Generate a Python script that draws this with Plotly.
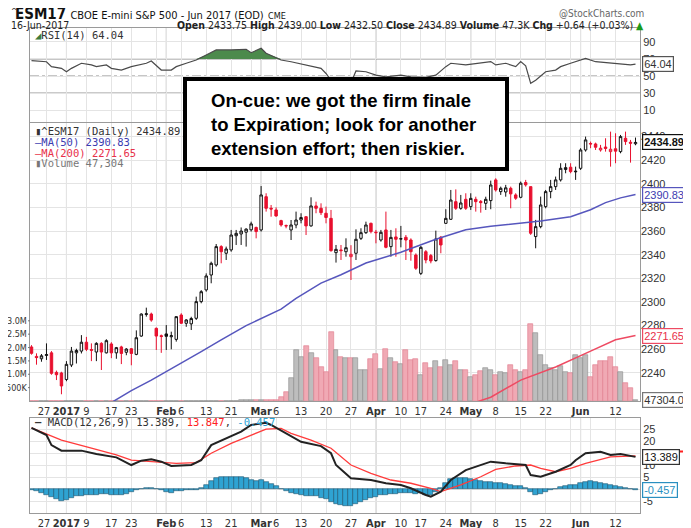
import pandas as pd
import plotly.graph_objects as go

# trading days of the chart (Dec 21 2016 .. Jun 16 2017, exchange holidays removed)
holidays = ["2016-12-26", "2017-01-02", "2017-01-16", "2017-02-20", "2017-04-14", "2017-05-29"]
dates = [d.strftime("%Y-%m-%d") for d in pd.bdate_range("2016-12-21", "2017-06-16")
         if d.strftime("%Y-%m-%d") not in holidays]

opens = [
    2262.0, 2254.0, 2252.0, 2254.8, 2257.0, 2240.5, 2240.0, 2234.5, 2246.7, 2257.0,
    2258.5, 2266.0, 2259.8, 2257.7, 2265.0, 2257.0, 2264.5, 2257.0, 2262.0, 2257.5,
    2260.5, 2255.7, 2271.2, 2289.5, 2289.8, 2277.7, 2271.5, 2273.0, 2270.6, 2268.4,
    2289.0, 2282.0, 2281.5, 2286.2, 2300.3, 2310.2, 2322.8, 2331.3, 2346.8, 2341.2,
    2344.0, 2356.0, 2357.5, 2359.0, 2361.0, 2363.0, 2360.9, 2389.0, 2379.2, 2377.8,
    2368.8, 2364.6, 2360.9, 2365.1, 2369.3, 2372.1, 2364.3, 2381.2, 2379.2, 2375.0,
    2370.7, 2341.7, 2344.0, 2342.5, 2338.3, 2341.2, 2353.8, 2358.6, 2366.5, 2359.0,
    2352.4, 2360.9, 2346.8, 2355.0, 2353.5, 2354.7, 2352.4, 2339.7, 2324.2, 2342.5,
    2339.2, 2335.0, 2354.7, 2366.5, 2369.9, 2384.8, 2379.2, 2386.8, 2380.6, 2386.8,
    2385.0, 2383.4, 2385.7, 2403.2, 2393.3, 2393.0, 2396.1, 2390.5, 2388.5, 2401.0,
    2397.5, 2355.3, 2363.7, 2380.6, 2393.3, 2397.5, 2403.2, 2412.0, 2413.9, 2410.0,
    2413.0, 2428.5, 2434.0, 2433.6, 2428.5, 2431.0, 2427.1, 2429.5, 2427.1, 2438.4,
    2435.0, 2433.75]
highs = [
    2263.5, 2256.6, 2256.0, 2265.0, 2258.5, 2242.0, 2241.0, 2250.0, 2262.0, 2260.5,
    2272.0, 2270.5, 2265.0, 2266.0, 2266.0, 2268.5, 2266.0, 2262.0, 2263.0, 2261.0,
    2261.0, 2276.0, 2290.4, 2295.2, 2291.0, 2278.5, 2272.5, 2280.5, 2274.9, 2287.0,
    2290.5, 2285.5, 2287.5, 2304.5, 2310.0, 2324.2, 2334.1, 2349.0, 2348.0, 2346.8,
    2360.9, 2360.9, 2363.0, 2362.3, 2367.9, 2363.7, 2398.0, 2391.9, 2382.0, 2380.0,
    2369.5, 2365.5, 2369.3, 2376.4, 2375.0, 2372.5, 2388.5, 2384.8, 2383.4, 2380.6,
    2377.8, 2348.2, 2348.2, 2353.8, 2348.0, 2361.4, 2362.3, 2367.9, 2367.1, 2360.9,
    2360.9, 2376.4, 2360.9, 2362.3, 2364.3, 2356.6, 2353.8, 2341.1, 2347.3, 2343.9,
    2340.6, 2360.3, 2355.8, 2378.4, 2394.7, 2395.2, 2390.5, 2391.9, 2391.9, 2389.0,
    2386.2, 2389.0, 2402.6, 2404.6, 2397.5, 2399.0, 2397.5, 2391.9, 2401.8, 2403.2,
    2397.5, 2369.4, 2389.1, 2394.7, 2403.2, 2406.0, 2417.3, 2417.3, 2417.3, 2414.4,
    2430.0, 2439.8, 2435.6, 2434.7, 2432.8, 2438.4, 2444.0, 2442.6, 2441.2, 2444.0,
    2437.0, 2439.0]
lows = [
    2255.5, 2247.0, 2249.5, 2251.0, 2238.5, 2234.0, 2222.0, 2233.0, 2245.0, 2248.0,
    2256.5, 2258.5, 2250.0, 2250.0, 2242.5, 2256.5, 2252.5, 2252.0, 2247.5, 2255.0,
    2246.5, 2255.0, 2270.6, 2287.6, 2283.3, 2259.4, 2257.0, 2259.4, 2260.0, 2266.5,
    2281.5, 2279.0, 2276.3, 2284.8, 2298.9, 2308.7, 2315.8, 2329.9, 2332.7, 2335.5,
    2342.5, 2348.2, 2348.2, 2346.8, 2359.5, 2353.8, 2359.5, 2376.4, 2372.1, 2372.1,
    2363.7, 2362.3, 2352.4, 2362.3, 2366.5, 2356.6, 2363.7, 2375.0, 2373.5, 2366.5,
    2342.5, 2333.3, 2335.5, 2338.3, 2318.6, 2335.5, 2352.4, 2357.5, 2358.0, 2349.6,
    2351.0, 2345.4, 2338.3, 2338.3, 2346.2, 2335.5, 2334.9, 2327.1, 2322.8, 2332.7,
    2332.7, 2334.1, 2341.2, 2366.0, 2369.3, 2377.8, 2378.0, 2377.8, 2377.8, 2376.4,
    2375.5, 2377.8, 2378.4, 2393.3, 2390.5, 2389.0, 2379.2, 2386.3, 2387.7, 2397.5,
    2356.7, 2345.4, 2362.3, 2379.2, 2387.7, 2394.7, 2401.8, 2408.8, 2408.8, 2403.2,
    2411.6, 2427.1, 2430.0, 2428.5, 2427.1, 2427.1, 2414.4, 2417.3, 2425.7, 2432.8,
    2417.8, 2432.5]
closes = [
    2256.6, 2253.0, 2254.5, 2255.5, 2239.7, 2238.5, 2229.0, 2247.3, 2258.5, 2259.0,
    2266.0, 2260.0, 2259.2, 2265.0, 2257.7, 2267.3, 2257.0, 2261.4, 2256.5, 2260.2,
    2256.5, 2269.8, 2289.8, 2290.0, 2284.7, 2271.2, 2270.8, 2271.0, 2271.5, 2287.6,
    2282.0, 2284.8, 2286.0, 2300.3, 2308.7, 2322.0, 2332.7, 2346.8, 2342.5, 2344.8,
    2356.6, 2358.0, 2360.0, 2361.6, 2366.0, 2359.5, 2390.5, 2379.2, 2378.6, 2372.7,
    2365.1, 2364.3, 2365.1, 2369.3, 2371.4, 2364.3, 2381.2, 2379.2, 2375.5, 2371.4,
    2343.4, 2344.5, 2343.4, 2345.9, 2340.3, 2353.0, 2358.6, 2365.1, 2359.5, 2358.6,
    2358.9, 2346.2, 2354.6, 2353.0, 2353.3, 2352.4, 2342.5, 2328.5, 2346.2, 2335.5,
    2334.7, 2353.3, 2348.2, 2370.7, 2386.2, 2379.2, 2383.7, 2379.2, 2387.6, 2384.8,
    2384.0, 2386.8, 2398.9, 2394.7, 2396.1, 2396.5, 2391.4, 2387.7, 2400.4, 2399.0,
    2358.1, 2363.7, 2382.0, 2393.3, 2397.5, 2403.2, 2413.0, 2413.6, 2410.2, 2410.5,
    2428.5, 2437.0, 2433.6, 2430.8, 2430.0, 2429.8, 2429.1, 2427.5, 2439.8, 2435.6,
    2434.25, 2434.89]

# volume in millions of contracts
volumes = [
    0.006, 0.005, 0.004, 0.006, 0.008, 0.006, 0.005, 0.007, 0.008, 0.007,
    0.006, 0.008, 0.007, 0.009, 0.008, 0.007, 0.009, 0.008, 0.010, 0.008,
    0.009, 0.011, 0.012, 0.010, 0.009, 0.012, 0.011, 0.010, 0.012, 0.011,
    0.010, 0.012, 0.013, 0.014, 0.012, 0.015, 0.016, 0.014, 0.015, 0.017,
    0.016, 0.018, 0.020, 0.019, 0.022, 0.025, 0.040, 0.030, 0.040, 0.050,
    0.16, 0.34, 0.85, 1.89, 1.64, 2.04, 1.79, 1.62, 1.27, 1.09,
    2.59, 1.92, 1.64, 1.62, 1.62, 1.62, 1.17, 1.17, 1.58, 1.74,
    1.21, 1.95, 1.62, 1.46, 1.37, 1.89, 1.54, 1.58, 0.99, 1.43,
    1.25, 1.48, 1.27, 1.54, 1.33, 1.49, 1.15, 1.17, 0.91, 0.96,
    1.12, 1.25, 1.15, 0.97, 1.10, 1.04, 1.35, 1.16, 1.10, 1.16,
    2.88, 2.54, 1.72, 1.35, 1.22, 1.16, 1.31, 1.07, 1.06, 1.72,
    1.60, 1.72, 0.91, 1.35, 1.48, 1.51, 1.64, 1.29, 1.07, 0.68,
    0.47, 0.047]
vol_ticks = [0.5, 1.0, 1.5, 2.0, 2.5, 3.0]
vol_tick_text = ["500K", "1.0M", "1.5M", "2.0M", "2.5M", "3.0M"]

ma50_idx = [14, 20, 24, 30, 34, 38, 43, 50, 53, 58, 62, 67, 74, 81, 87, 92, 97, 102, 108, 112, 115, 118, 121]
ma50_val = [2210, 2225, 2234, 2248, 2258, 2268, 2280, 2294, 2303, 2316, 2323, 2333, 2342, 2353,
            2361, 2364, 2366, 2368.5, 2372, 2378, 2384, 2388, 2390.83]
ma200_idx = [86, 92, 98, 105, 112, 117, 121]
ma200_val = [2211, 2219.5, 2234, 2245, 2258.5, 2268, 2271.65]

rsi_idx = [0, 3, 4, 6, 7, 8, 10, 12, 13, 15, 16, 18, 20, 23, 24, 26, 28, 29, 31, 33,
           35, 37, 40, 43, 44, 46, 47, 50, 52, 55, 58, 59, 60, 62, 64, 65, 67, 69, 71, 74,
           76, 79, 81, 83, 84, 87, 90, 92, 93, 95, 97, 98, 99, 100, 101, 103, 105, 106, 108, 110,
           111, 113, 116, 120, 121]
rsi_val = [68, 66.8, 61, 59, 55, 59, 65, 63, 61, 63, 59, 57, 61, 65, 67.6, 57, 57, 61, 65, 68.8,
           74.7, 80.6, 80.6, 81.4, 77.4, 82.6, 76.7, 68.8, 66.8, 63, 59, 53, 45, 44, 42, 56, 55, 51, 49, 51,
           49, 48.5, 51, 61, 65, 63, 65, 67, 63, 65, 61, 67, 62, 41.4, 45, 55, 57, 61, 65, 68.8,
           70.8, 66.8, 65, 63, 64.04]

macd_idx = [0, 3, 4, 6, 10, 13, 17, 19, 20, 22, 24, 26, 28, 32, 34, 36, 39, 42, 44, 47,
            48, 51, 54, 58, 60, 61, 64, 68, 71, 74, 76, 79, 80, 82, 84, 87, 90, 92, 95, 99,
            100, 102, 105, 108, 109, 111, 114, 116, 118, 121]
macd_val = [25.5, 22.5, 18.3, 16.0, 16.0, 14.6, 13.2, 11.0, 10.0, 11.8, 12.4, 11.4, 9.6, 10.0, 12.0,
            18.3, 21.1, 23.9, 26.7, 27.6, 26.7, 23.2, 19.7, 17.9, 14.9, 10.0, 4.5, 3.75, 2.4, 1.7,
            0.3, -2.5, -3.2, -1.1, 3.75, 7.9, 10.0, 11.4, 10.7, 10.0, 5.8, 5.1, 7.2, 10.0, 12.0,
            14.9, 15.5, 14.2, 14.6, 13.389]
signal_idx = [0, 6, 12, 17, 20, 24, 29, 33, 36, 40, 44, 47, 50, 52, 56, 60, 64, 68, 72, 76,
              80, 82, 86, 90, 93, 97, 100, 102, 105, 108, 111, 116, 121]
signal_val = [25.5, 20.4, 17.0, 14.2, 12.0, 11.4, 10.7, 11.0, 14.9, 19.0, 22.5, 25.0, 25.3, 23.2,
              20.4, 17.0, 10.0, 6.5, 3.75, 2.4, 0.3, -1.1, 1.7, 5.1, 8.2, 9.6, 10.0, 8.6, 7.2, 8.6,
              10.7, 13.4, 13.847]
histogram = [
    -0.3, -0.8, -1.5, -2.3, -3.2, -4.2, -5.0, -4.5, -3.6, -3.0,
    -2.8, -2.6, -2.4, -2.3, -2.2, -2.2, -2.3, -2.4, -2.3, -2.1,
    -1.2, -0.3, 0.2, 0.5, 0.3, 0.0, -0.6, -1.3, -1.5, -1.0,
    -0.8, -0.6, -0.5, -0.3, 0.5, 1.8, 3.5, 4.6, 5.1, 5.2,
    5.1, 5.0, 4.8, 4.4, 3.8, 3.3, 3.6, 3.0, 2.2, 1.2,
    0.2, -0.8, -1.6, -2.2, -2.6, -3.0, -2.8, -3.1, -3.6, -4.3,
    -5.5, -6.4, -6.8, -7.0, -6.9, -6.2, -5.4, -4.4, -3.8, -3.2,
    -2.6, -2.5, -2.2, -1.9, -1.6, -1.5, -1.6, -2.2, -1.8, -2.4,
    -2.6, -1.2, 0.4, 2.5, 4.0, 4.5, 4.6, 4.4, 4.0, 3.6,
    3.2, 3.0, 2.9, 2.6, 2.3, 2.0, 1.6, 1.4, 1.1, 0.6,
    -1.4, -2.4, -2.0, -1.3, -0.6, 0.1, 0.8, 1.3, 1.6, 1.8,
    2.3, 2.9, 3.2, 3.0, 2.6, 2.0, 1.5, 1.1, 0.8, 0.4,
    -0.1, -0.457]

tick_dates = ["2016-12-27", "2017-01-03", "2017-01-09", "2017-01-17", "2017-01-23", "2017-01-30",
              "2017-02-01", "2017-02-06", "2017-02-13", "2017-02-21", "2017-02-27", "2017-03-01",
              "2017-03-06", "2017-03-13", "2017-03-20", "2017-03-27", "2017-04-03", "2017-04-10",
              "2017-04-17", "2017-04-24", "2017-05-01", "2017-05-08", "2017-05-15", "2017-05-22",
              "2017-05-30", "2017-06-01", "2017-06-05", "2017-06-12"]
tick_text = ["27\u2002", "<b>2017</b>", "9", "17", "23", " ", "<b>Feb</b>", "6", "13", "21", " ", "<b>Mar</b>",
             "6", "13", "20", "27", "<b>Apr</b>", "10", "17", "24", "<b>May</b>", "8", "15", "22",
             " ", "<b>Jun</b>", " ", "12"]
month_starts = ["2017-01-03", "2017-02-01", "2017-03-01", "2017-04-03", "2017-05-01", "2017-06-01"]

RED = "#e8102e"
BLUE_MA = "#5656bd"
RED_MA = "#ee4a62"
NARROW = "Liberation Sans Narrow, DejaVu Sans Condensed, Liberation Sans, Arial"
MONO = "DejaVu Sans Mono"
# the page puts the figure 8px in from the top-left corner, so the figure is 8px smaller
OFF = 8
W, H, L, R = 691 - OFF, 528 - OFF, 30 - OFF, 51


def px(x):
    return (x - OFF - L) / (W - L - R)


def py(y):
    return 1 - (y - OFF) / H


# StockCharts colouring: red when the close is below the previous close, black otherwise
up = [i > 0 and closes[i] >= closes[i - 1] for i in range(len(closes))]

fig = go.Figure()

# ---- RSI panel
rsi_x = [dates[i] for i in rsi_idx]
fig.add_trace(go.Scatter(x=rsi_x, y=[70] * len(rsi_x), mode="lines", line=dict(width=0),
                         xaxis="x", yaxis="y", hoverinfo="skip"))
fig.add_trace(go.Scatter(x=rsi_x, y=[max(v, 70) for v in rsi_val], mode="lines", line=dict(width=0),
                         fill="tonexty", fillcolor="#4c8a4c", xaxis="x", yaxis="y", hoverinfo="skip"))
fig.add_trace(go.Scatter(x=rsi_x, y=rsi_val, mode="lines", line=dict(color="#4a4a4a", width=1.2),
                         xaxis="x", yaxis="y"))

# ---- volume (base axis of the price panel, so it sits under the candles)
fig.add_trace(go.Bar(x=dates, y=volumes, xaxis="x2", yaxis="y2",
                     marker=dict(color=["#bdbdbd" if u else "#f0a9b4" for u in up],
                                 line=dict(color=["#8c8c8c" if u else "#e17a8c" for u in up], width=0.6))))

# ---- moving averages
fig.add_trace(go.Scatter(x=[dates[i] for i in ma50_idx], y=ma50_val, mode="lines",
                         line=dict(color=BLUE_MA, width=1.5), xaxis="x2", yaxis="y5"))
fig.add_trace(go.Scatter(x=[dates[i] for i in ma200_idx], y=ma200_val, mode="lines",
                         line=dict(color=RED_MA, width=1.5), xaxis="x2", yaxis="y5"))

# ---- candles, one trace per colour
for flag, color in [(True, "#111111"), (False, RED)]:
    sel = [i for i in range(len(dates)) if up[i] == flag]
    fig.add_trace(go.Candlestick(
        x=[dates[i] for i in sel], open=[opens[i] for i in sel], high=[highs[i] for i in sel],
        low=[lows[i] for i in sel], close=[closes[i] for i in sel],
        increasing=dict(line=dict(color=color, width=1), fillcolor="white"),
        decreasing=dict(line=dict(color=color, width=1), fillcolor=color),
        whiskerwidth=0, xaxis="x2", yaxis="y5", hoverinfo="skip"))

# ---- MACD panel
fig.add_trace(go.Bar(x=dates, y=histogram, xaxis="x3", yaxis="y3",
                     marker=dict(color="#2fa3d2", line=dict(color="#1d5570", width=0.6))))
fig.add_trace(go.Scatter(x=[dates[i] for i in signal_idx], y=signal_val, mode="lines",
                         line=dict(color="#ff3b3b", width=1.3), xaxis="x3", yaxis="y3"))
fig.add_trace(go.Scatter(x=[dates[i] for i in macd_idx], y=macd_val, mode="lines",
                         line=dict(color="#222222", width=2), xaxis="x3", yaxis="y3"))

xcommon = dict(type="category", categoryorder="array", categoryarray=dates, range=[-0.3, 121.9],
               tickvals=tick_dates, ticktext=tick_text, tickangle=0, automargin=False,
               showgrid=True, gridcolor="#e4e4e4", showline=True, mirror=True, linecolor="#9a9a9a",
               ticks="", tickfont=dict(family=NARROW, size=11, color="#333"), zeroline=False)
ycommon = dict(showline=True, mirror=True, linecolor="#9a9a9a", gridcolor="#e4e4e4", zeroline=False,
               ticks="", automargin=False,
               tickfont=dict(family="Liberation Sans, Arial", size=11, color="#333"))

fig.update_layout(
    width=W, height=H, margin=dict(l=L, r=R, t=0, b=0, autoexpand=False),
    paper_bgcolor="white", plot_bgcolor="white", showlegend=False,
    bargap=0.0, hovermode=False,
    xaxis=dict(xcommon, anchor="y", showticklabels=False),
    xaxis2=dict(xcommon, anchor="y2", rangeslider=dict(visible=False)),
    xaxis3=dict(xcommon, anchor="y3"),
    yaxis=dict(ycommon, domain=[py(122), py(28)], range=[-4, 106.4], side="right",
               tickvals=[10, 30, 50, 70, 90]),
    yaxis2=dict(ycommon, domain=[py(401), py(123)], range=[0, 10.4], side="left", showgrid=False,
                showticklabels=False),
    yaxis5=dict(ycommon, overlaying="y2", side="right", range=[2216.3, 2451.3],
                tickvals=list(range(2240, 2441, 20)), showline=False),
    yaxis3=dict(ycommon, domain=[py(513), py(418)], range=[-10, 29.6], side="right",
                tickvals=[-5, 0, 5, 10, 15, 20, 25], ticktext=["-5", " ", "5", "10", " ", "20", "25"]),
)

shapes = []
for d in month_starts:
    for xr, yr in [("x", "y domain"), ("x2", "y2 domain"), ("x3", "y3 domain")]:
        shapes.append(dict(type="line", xref=xr, yref=yr, x0=d, x1=d, y0=0, y1=1,
                           line=dict(color="#b4b4b4", width=1), layer="below"))
for lvl, dash in [(70, "solid"), (30, "solid"), (50, "dashdot")]:
    shapes.append(dict(type="line", xref="x domain", yref="y", x0=0, x1=1, y0=lvl, y1=lvl,
                       line=dict(color="#8a8a8a", width=1, dash=dash), layer="below"))
# short volume ticks on the left edge
for v in vol_ticks:
    shapes.append(dict(type="line", xref="paper", yref="y2", x0=px(28), x1=px(30), y0=v, y1=v,
                       line=dict(color="#777", width=1)))
# commentary box
shapes.append(dict(type="rect", xref="paper", yref="paper", x0=px(185), x1=px(507), y0=py(169), y1=py(79),
                   fillcolor="white", line=dict(color="black", width=4), layer="above"))
# signal-line marker peeking out above the MACD value tag
shapes.append(dict(type="line", xref="paper", yref="y3", x0=px(643), x1=px(689), y0=15.6, y1=15.6,
                   line=dict(color="#ff2020", width=2)))
fig.update_layout(shapes=shapes)

ann = []


def text(x, y, s, size, family=NARROW, color="#222", anchor="left"):
    ann.append(dict(xref="paper", yref="paper", x=px(x), y=py(y), text=s, showarrow=False,
                    xanchor=anchor, yanchor="middle", font=dict(family=family, size=size, color=color)))


# header
text(9, 11.5, "^", 8, color="#111")
text(13, 14, "<b>ESM17</b> <span style='font-size:11px'>CBOE E-mini S&P 500 - Jun 2017 (EOD)</span>"
             " <span style='font-size:9px'>CME</span>", 15, color="#111")
text(646, 13.5, "@StockCharts.com", 10, color="#666", anchor="right")
text(9, 25, "16-Jun-2017", 10.5, color="#222")
text(646, 25.5, "<b>Open</b> 2433.75 <b>High</b> 2439.00 <b>Low</b> 2432.50 <b>Close</b> 2434.89 "
                "<b>Volume</b> 47.3K <b>Chg</b> +0.64 (+0.03%) <span style='color:#1a9a1a'>▲</span>",
     10.5, color="#222", anchor="right")

# volume axis labels, right-aligned against the panel edge
for v, s in zip(vol_ticks, vol_tick_text):
    ann.append(dict(xref="paper", yref="y2", x=px(28.5), y=v, text=s, showarrow=False,
                    xanchor="right", yanchor="middle", font=dict(family=NARROW, size=9, color="#333")))

# panel legends
text(33, 35, "<span style='color:#3d7a3d'>◢</span>RSI(14) 64.04", 10.5, MONO, "#333")
text(33, 131, "▮^ESM17 (Daily) 2434.89", 10.5, MONO, "#333")
text(33, 142, "—MA(50) 2390.83", 10.5, MONO, "#3b3bb0")
text(33, 153, "—MA(200) 2271.65", 10.5, MONO, "#e8304a")
text(33, 163, "▮Volume 47,304", 10.5, MONO, "#777")
text(33, 422, "<b>—</b> MACD(12,26,9) 13.389, <span style='color:#ff2020'>13.847</span>, "
              "<span style='color:#29a3d6'>-0.457</span>", 10.5, MONO, "#333")

# commentary
text(209, 125, "On-cue: we got the firm finale<br>to Expiration; look for another<br>"
               "extension effort; then riskier.", 18.5, "Liberation Sans, Arial", "black")
ann[-1]["font"]["weight"] = "bold"
ann[-1]["align"] = "left"


def tag(y, yref, s, color, border, bold=False):
    ann.append(dict(xref="paper", yref=yref, x=1.004, y=y, text=f"<b>{s}</b>" if bold else s,
                    showarrow=False, xanchor="left", yanchor="middle",
                    font=dict(family="Liberation Sans, Arial", size=11, color=color),
                    bgcolor="white", bordercolor=border, borderwidth=1.2, borderpad=1))


tag(64.04, "y", "64.04", "#333", "#555")
tag(2434.89, "y5", "2434.89", "#111", "#111", bold=True)
tag(2390.83, "y5", "2390.83", "#3b3bb0", "#5656bd")
tag(2271.65, "y5", "2271.65", "#e8304a", "#ee4a62")
tag(0.047, "y2", "47304.0", "#333", "#777")
tag(13.389, "y3", "13.389", "#111", "#333")
tag(-0.457, "y3", "-0.457", "#2a8fc0", "#2a8fc0")

fig.update_layout(annotations=ann)
fig.write_html("out.html")
